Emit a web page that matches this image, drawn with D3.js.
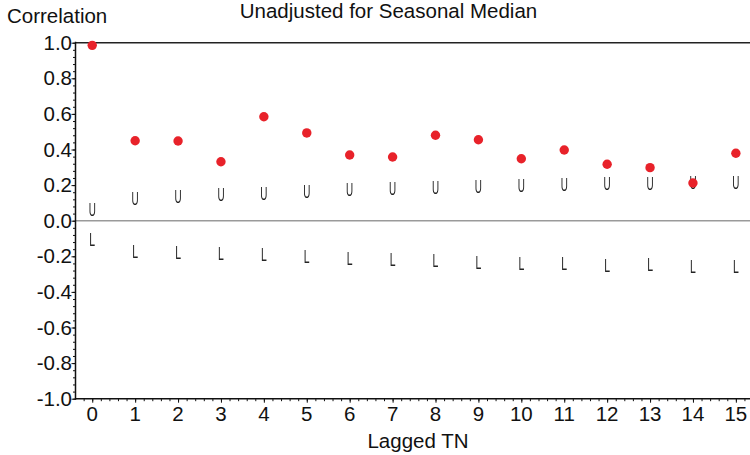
<!DOCTYPE html>
<html><head><meta charset="utf-8">
<script src="https://cdn.jsdelivr.net/npm/d3@7"></script>
<style>
html,body{margin:0;padding:0;background:#fff;}
svg{display:block;font-family:"Liberation Sans",Arial,Helvetica,sans-serif;}
</style></head>
<body>
<svg id="chart" width="750" height="455"></svg>
<script>
const lags = [0,1,2,3,4,5,6,7,8,9,10,11,12,13,14,15];
const correlation = [0.985,0.449,0.448,0.331,0.584,0.493,0.369,0.358,0.480,0.455,0.348,0.397,0.317,0.298,0.212,0.379];
const upperBound = [0.066,0.126,0.139,0.148,0.154,0.167,0.178,0.184,0.188,0.195,0.201,0.206,0.208,0.213,0.219,0.217];
const lowerBound = [-0.103,-0.169,-0.178,-0.183,-0.187,-0.202,-0.213,-0.217,-0.222,-0.232,-0.239,-0.239,-0.249,-0.243,-0.253,-0.254];
const yTicks = [1.0,0.8,0.6,0.4,0.2,0.0,-0.2,-0.4,-0.6,-0.8,-1.0];
const title = "Unadjusted for Seasonal Median";
const yTitle = "Correlation";
const xTitle = "Lagged TN";

const FS = 20.5;
const svg = d3.select("#chart");
const x = d3.scaleLinear().domain([-0.39, 15.39]).range([75.5, 752.6]);
const y = d3.scaleLinear().domain([-1, 1]).range([398.7, 42.7]);
const fmt = v => (Math.abs(v) < 1e-9 ? 0 : v).toFixed(1);

// reference lines
svg.append("line").attr("x1", x(-0.39)).attr("x2", 750).attr("y1", y(0)).attr("y2", y(0))
  .attr("stroke", "#9a9a9a").attr("stroke-width", 1.6);
svg.append("line").attr("x1", x(-0.39)).attr("x2", 750).attr("y1", y(1)).attr("y2", y(1))
  .attr("stroke", "#222").attr("stroke-width", 1.6);

// y axis
const yMinor = d3.range(-1, 1.0001, 0.04);
const yAxis = svg.append("g").attr("transform", `translate(${x(-0.39)},0)`);
yAxis.call(d3.axisLeft(y).tickValues(yMinor).tickSize(2.5).tickFormat(""))
  .call(g => g.select(".domain").remove());
yAxis.append("g").call(d3.axisLeft(y).tickValues(yTicks).tickSize(4).tickFormat(""))
  .call(g => g.select(".domain").remove());
yAxis.selectAll("line").attr("stroke", "#111");
yAxis.append("line").attr("x1", 0).attr("x2", 0).attr("y1", y(1) - 1).attr("y2", y(-1) + 1)
  .attr("stroke", "#111").attr("stroke-width", 1.5);
yAxis.selectAll("text.ylab").data(yTicks).join("text").attr("class", "ylab")
  .attr("x", -3.5).attr("y", d => y(d) + 7).attr("text-anchor", "end")
  .attr("font-size", FS).attr("fill", "#111").text(fmt);

// x axis
const xMinor = d3.range(-0.2, 15.4001, 0.2);
const xAxis = svg.append("g").attr("transform", `translate(0,${y(-1)})`);
xAxis.call(d3.axisBottom(x).tickValues(xMinor).tickSize(2.5).tickFormat(""))
  .call(g => g.select(".domain").remove());
xAxis.append("g").call(d3.axisBottom(x).tickValues(lags).tickSize(4).tickFormat(""))
  .call(g => g.select(".domain").remove());
xAxis.selectAll("line").attr("stroke", "#111");
xAxis.append("line").attr("x1", x(-0.39) - 0.75).attr("x2", 750).attr("y1", 0).attr("y2", 0)
  .attr("stroke", "#111").attr("stroke-width", 1.5);
xAxis.selectAll("text.xlab").data(lags).join("text").attr("class", "xlab")
  .attr("x", d => x(d)).attr("y", 22).attr("text-anchor", "middle")
  .attr("font-size", FS).attr("fill", "#111").text(d => d);

// titles
svg.append("text").attr("x", 388.5).attr("y", 18).attr("text-anchor", "middle")
  .attr("font-size", FS).attr("fill", "#111").text(title);
svg.append("text").attr("x", 7).attr("y", 23).attr("font-size", FS).attr("fill", "#111").text(yTitle);
svg.append("text").attr("x", 418).attr("y", 447.5).attr("text-anchor", "middle")
  .attr("font-size", FS).attr("fill", "#111").text(xTitle);

// bound markers U and L
const marks = svg.append("g").attr("font-size", 19).attr("fill", "#222").attr("opacity", 0.99);
marks.selectAll("text.u").data(lags).join("text").attr("class", "u")
  .attr("transform", (d, i) => `translate(${x(d)},${y(upperBound[i]) + 6.8}) scale(0.52,1)`)
  .attr("text-anchor", "middle").text("U");
marks.selectAll("text.l").data(lags).join("text").attr("class", "l")
  .attr("transform", (d, i) => `translate(${x(d)},${y(lowerBound[i]) + 6.8}) scale(0.55,1)`)
  .attr("text-anchor", "middle").text("L");

// correlation points
svg.append("g").selectAll("circle").data(lags).join("circle")
  .attr("cx", d => x(d)).attr("cy", (d, i) => y(correlation[i]))
  .attr("r", 4.7).attr("fill", "#e8222a");
</script>
</body></html>
